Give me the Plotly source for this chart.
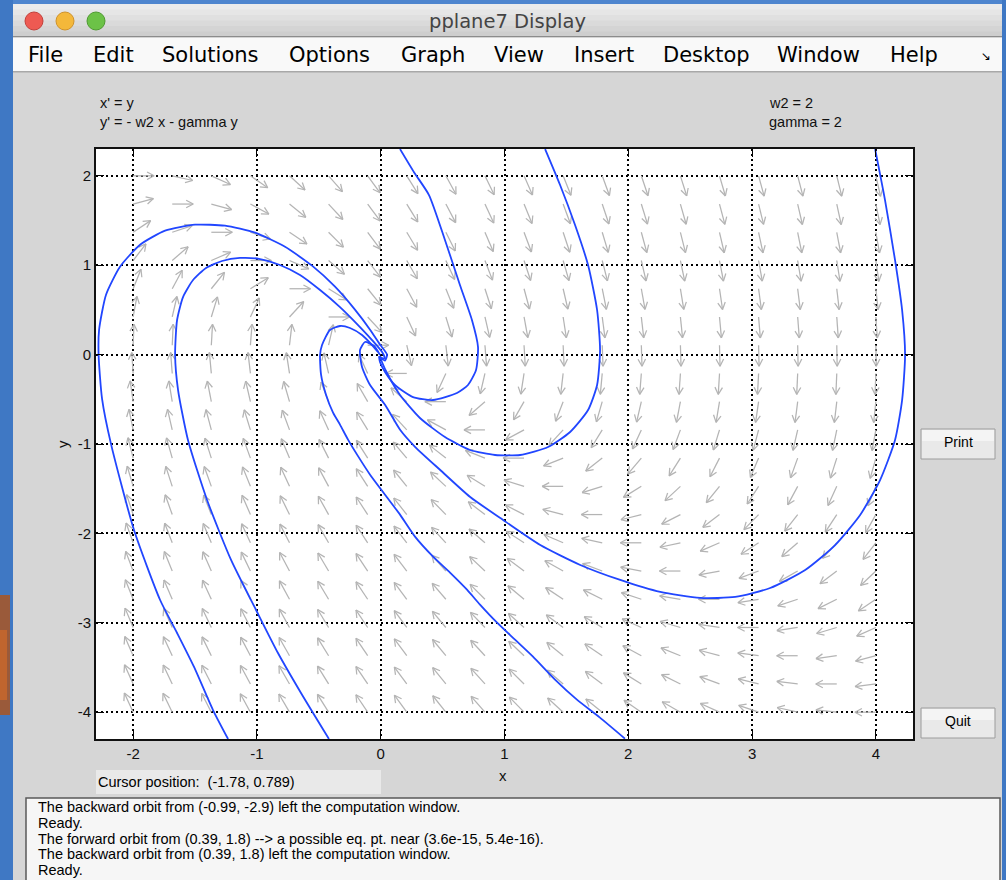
import numpy as np
import plotly.graph_objects as go

W, H = 1006, 880

# ---- system shown in the window -------------------------------------------
W2 = 2
GAMMA = 2

X_RANGE = [-2.3, 4.3]
Y_RANGE = [-4.3, 2.3]
X_TICKS = [-2, -1, 0, 1, 2, 3, 4]
Y_TICKS = [-4, -3, -2, -1, 0, 1, 2]
X_TICK_TEXT = ["-2", "-1", "0", "1", "2", "3", "4"]
Y_TICK_TEXT = ["-4", "-3", "-2", "-1", "0", "1", "2"]

# direction-field sample points
FIELD_X = np.linspace(-2, 4, 20)
FIELD_Y = np.linspace(-4, 2, 20)

# ---- computed solution curves ------------------------------------------------
ORBIT1_X = [-1.233, -1.355, -1.508, -1.645, -1.782, -1.993, -2.179, -2.251, -2.279, -2.275,
            -2.219, -2.106, -1.944, -1.742, -1.500, -1.258, -1.015, -0.773, -0.555, -0.369,
            -0.208, -0.086, -0.006, 0.051, 0.035, -0.004]
ORBIT1_Y = [-4.300, -3.976, -3.494, -3.114, -2.745, -1.962, -0.999, -0.496, -0.004, 0.278,
            0.670, 0.983, 1.229, 1.386, 1.453, 1.442, 1.364, 1.207, 0.995, 0.760,
            0.503, 0.279, 0.112, 0.0, -0.067, -0.034]

ORBIT2_X = [-0.418, -0.644, -0.830, -1.007, -1.209, -1.403, -1.557, -1.637, -1.661, -1.645,
            -1.597, -1.516, -1.411, -1.282, -1.137, -0.975, -0.814, -0.652, -0.490, -0.329,
            -0.183, -0.070, 0.011, 0.035, -0.006]
ORBIT2_Y = [-4.300, -3.785, -3.338, -2.857, -2.297, -1.626, -0.955, -0.396, -0.004, 0.387,
            0.644, 0.834, 0.969, 1.047, 1.081, 1.069, 1.002, 0.890, 0.722, 0.532,
            0.331, 0.163, 0.029, -0.049, -0.027]

ORBIT3_X = [0.156, 0.269, 0.390, 0.519, 0.640, 0.737, 0.786, 0.770, 0.705, 0.616,
            0.422, 0.261, 0.115, 0.035, -0.006, -0.014]
ORBIT3_Y = [2.299, 2.040, 1.785, 1.282, 0.779, 0.387, 0.085, -0.172, -0.340, -0.430,
            -0.508, -0.475, -0.340, -0.195, -0.083, -0.016]

ORBIT4_X = [1.328, 1.449, 1.570, 1.675, 1.748, 1.772, 1.748, 1.675, 1.530, 1.352,
            1.126, 0.924, 0.722, 0.519, 0.317, 0.156, 0.059, 0.010, -0.006]
ORBIT4_Y = [2.299, 1.897, 1.449, 1.002, 0.499, 0.051, -0.340, -0.620, -0.866, -1.034,
            -1.123, -1.123, -1.067, -0.922, -0.709, -0.452, -0.228, -0.083, -0.016]

ORBIT5_X = [3.994, 4.074, 4.155, 4.212, 4.236, 4.212, 4.155, 4.034, 3.873, 3.671,
            3.429, 3.146, 2.864, 2.581, 2.258, 1.935, 1.612, 1.289, 0.966, 0.723,
            0.481, 0.279, 0.158, 0.036, -0.086, -0.151, -0.167, -0.127, -0.054, -0.006]
ORBIT5_Y = [2.299, 1.728, 1.057, 0.499, -0.004, -0.508, -0.955, -1.403, -1.794, -2.130,
            -2.409, -2.611, -2.711, -2.722, -2.655, -2.521, -2.353, -2.130, -1.828, -1.593,
            -1.291, -1.034, -0.844, -0.564, -0.340, -0.139, 0.051, 0.141, 0.096, -0.004]

ORBIT6_X = [1.973, 1.771, 1.585, 1.408, 1.230, 1.085, 0.940, 0.802, 0.697, 0.560,
            0.423, 0.277, 0.156, 0.035, -0.086, -0.191, -0.264, -0.329, -0.385, -0.442,
            -0.482, -0.490, -0.474, -0.410, -0.329, -0.248, -0.151, -0.070, -0.022]
ORBIT6_Y = [-4.296, -4.061, -3.860, -3.636, -3.379, -3.189, -2.999, -2.797, -2.630, -2.439,
            -2.260, -2.036, -1.790, -1.567, -1.343, -1.119, -0.951, -0.783, -0.649, -0.448,
            -0.224, -0.004, 0.107, 0.275, 0.320, 0.298, 0.219, 0.107, 0.029]

ORBITS = [(ORBIT1_X, ORBIT1_Y), (ORBIT2_X, ORBIT2_Y), (ORBIT3_X, ORBIT3_Y),
          (ORBIT4_X, ORBIT4_Y), (ORBIT5_X, ORBIT5_Y), (ORBIT6_X, ORBIT6_Y)]

MENU_ITEMS = ["File", "Edit", "Solutions", "Options", "Graph", "View",
              "Insert", "Desktop", "Window", "Help"]
MENU_POS = [27, 92, 161, 288, 400, 493, 573, 662, 776, 889]

MESSAGES = [
    "The backward orbit from (-0.99, -2.9) left the computation window.",
    "Ready.",
    "The forward orbit from (0.39, 1.8) --> a possible eq. pt. near (3.6e-15, 5.4e-16).",
    "The backward orbit from (0.39, 1.8) left the computation window.",
    "Ready.",
]

# ---- geometry of the axes box (pixels) -------------------------------------
AX_L, AX_R, AX_T, AX_B = 96, 913, 149, 739
SX = (AX_R - AX_L) / (X_RANGE[1] - X_RANGE[0])
SY = (AX_B - AX_T) / (Y_RANGE[1] - Y_RANGE[0])


def fx(p):
    return p / W


def fy(p):
    return 1 - p / H


# ---- direction field arrows, fixed on-screen length ------------------------
ARROW_LEN = 21.0
HEAD_LEN = 8.0
HEAD_ANG = np.deg2rad(28)
ax_pts, ay_pts = [], []
for x0 in FIELD_X:
    for y0 in FIELD_Y:
        u = y0
        v = -W2 * x0 - GAMMA * y0
        pu, pv = u * SX, v * SY
        n = np.hypot(pu, pv)
        if n == 0:
            continue
        du, dv = pu / n, pv / n
        tx = x0 + ARROW_LEN * du / SX
        ty = y0 + ARROW_LEN * dv / SY
        ax_pts += [x0, tx, None]
        ay_pts += [y0, ty, None]
        bu, bv = -du, -dv
        for s in (1, -1):
            c, sn = np.cos(s * HEAD_ANG), np.sin(s * HEAD_ANG)
            hu = c * bu - sn * bv
            hv = sn * bu + c * bv
            ax_pts += [tx, tx + HEAD_LEN * hu / SX, None]
            ay_pts += [ty, ty + HEAD_LEN * hv / SY, None]

fig = go.Figure()
fig.add_trace(go.Scatter(x=ax_pts, y=ay_pts, mode="lines",
                         line=dict(color="#b4b4b4", width=1.25),
                         hoverinfo="skip", showlegend=False))
for ox, oy in ORBITS:
    fig.add_trace(go.Scatter(x=ox, y=oy, mode="lines",
                             line=dict(color="#2146ff", width=1.8, shape="spline", smoothing=0.6),
                             hoverinfo="skip", showlegend=False))

shapes = []


def rect(x0, y0, x1, y1, fill, line=None, lw=0, layer="above"):
    shapes.append(dict(type="rect", xref="paper", yref="paper",
                       x0=fx(x0), x1=fx(x1), y0=fy(y1), y1=fy(y0),
                       fillcolor=fill, layer=layer,
                       line=dict(color=line or fill, width=lw)))


# desktop around the window
rect(0, 0, W, 4, "#4f86cf")
rect(0, 0, 13, H, "#3f78c4")
rect(1002, 0, W, H, "#3f78c4")
rect(0, 595, 10, 715, "#9a5a3a")
rect(0, 630, 7, 700, "#c0652e")

# title bar (stacked bands for a soft gradient)
bands = ["#ececec", "#e6e6e6", "#e0e0e0", "#dadada", "#d4d4d4", "#cecece"]
bh = (37 - 4) / len(bands)
for i, c in enumerate(bands):
    rect(13, 4 + i * bh, 1002, 4 + (i + 1) * bh + 0.5, c)
rect(13, 36, 1002, 37.5, "#8c8c8c")

# menu bar
rect(13, 37.5, 1002, 71, "#f9f9f9")
rect(13, 71, 1002, 72.5, "#a8a8a8")

# traffic lights
for cx, col, edge in [(34, "#ee5a52", "#c2403a"), (65, "#f4b83a", "#cf922a"),
                      (96, "#6cc247", "#4f9a31")]:
    shapes.append(dict(type="circle", xref="paper", yref="paper",
                       x0=fx(cx - 9), x1=fx(cx + 9), y0=fy(21 + 9), y1=fy(21 - 9),
                       fillcolor=col, line=dict(color=edge, width=1), layer="above"))

# buttons
for (bx0, by0, bx1, by1) in [(921, 429, 995, 459), (921, 708, 995, 738)]:
    rect(bx0, by0, bx1, by1, "#e9e9e9", "#9c9c9c", 1)
    rect(bx0 + 1, by0 + 1, bx1 - 1, by0 + 12, "#f4f4f4")

# cursor-position box and message pane
rect(96, 770, 381, 794, "#e9e9e9")
rect(26, 798, 1000, 882, "#f6f6f6", "#5a5a5a", 1.5)

annotations = []


def text(x, y, s, size, color="#000000", family="Liberation Sans", xanchor="left",
         yanchor="middle", angle=0):
    annotations.append(dict(x=fx(x), y=fy(y), xref="paper", yref="paper", text=s,
                            showarrow=False, xanchor=xanchor, yanchor=yanchor,
                            textangle=angle, borderpad=0,
                            font=dict(family=family, size=size, color=color)))


text(507, 21, "pplane7 Display", 19.5, "#444444", "DejaVu Sans", xanchor="center")
for name, pos in zip(MENU_ITEMS, MENU_POS):
    text(pos, 55, name, 21, "#000000", "DejaVu Sans")
text(986, 56, "↘", 12, "#000000", "DejaVu Sans", xanchor="center")

text(99, 103, "x' = y", 14.5, "#111111")
text(99, 122, "y' = - w2 x - gamma y", 14.5, "#111111")
text(768, 103, "w2 = 2", 14.5, "#111111")
text(768, 122, "gamma = 2", 14.5, "#111111")

text(503, 775, "x", 15, "#111111", xanchor="center")
text(62, 444, "y", 15, "#111111", xanchor="center", angle=-90)

text(958, 442, "Print", 14, "#000000", xanchor="center")
text(958, 721, "Quit", 14, "#000000", xanchor="center")

text(97, 782, "Cursor position:  (-1.78, 0.789)", 14.5, "#000000")
for i, m in enumerate(MESSAGES):
    text(37, 807 + i * 15.8, m, 14.5, "#000000")

fig.update_layout(
    width=W, height=H,
    margin=dict(l=0, r=0, t=0, b=0),
    paper_bgcolor="#d6d6d6",
    plot_bgcolor="#ffffff",
    shapes=shapes,
    annotations=annotations,
    xaxis=dict(domain=[fx(AX_L), fx(AX_R)], range=X_RANGE, tickvals=X_TICKS,
               ticktext=X_TICK_TEXT, ticks="inside", ticklen=8, tickwidth=1.3,
               tickcolor="#000000", showline=True, linewidth=2, linecolor="#111111",
               mirror="ticks", showgrid=True, gridcolor="#000000", gridwidth=1.5,
               griddash="2px,3px", zeroline=False,
               tickfont=dict(family="Liberation Sans", size=15, color="#111111")),
    yaxis=dict(domain=[fy(AX_B), fy(AX_T)], range=Y_RANGE, tickvals=Y_TICKS,
               ticktext=Y_TICK_TEXT, ticks="inside", ticklen=8, tickwidth=1.3,
               tickcolor="#000000", showline=True, linewidth=2, linecolor="#111111",
               mirror="ticks", showgrid=True, gridcolor="#000000", gridwidth=1.5,
               griddash="2px,3px", zeroline=False,
               tickfont=dict(family="Liberation Sans", size=15, color="#111111")),
)

fig.write_html("out.html")
